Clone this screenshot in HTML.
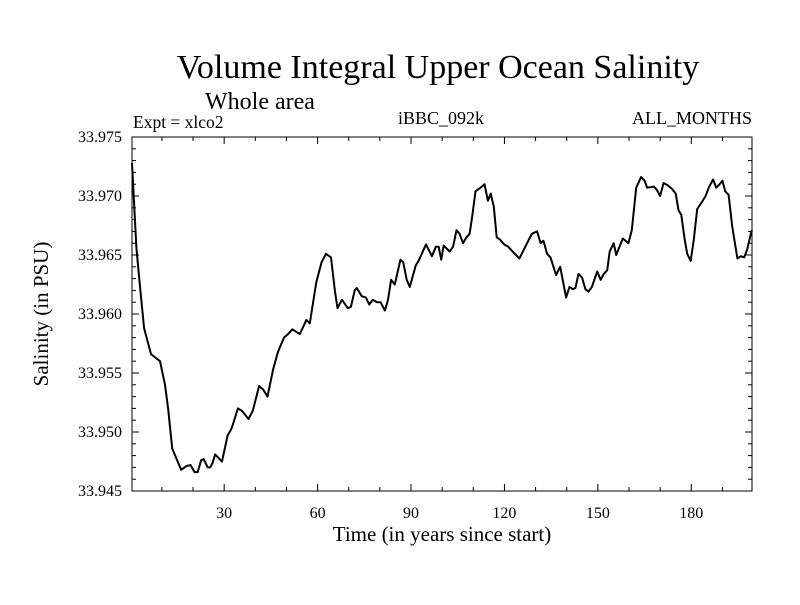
<!DOCTYPE html>
<html><head><meta charset="utf-8"><style>
body{margin:0;background:#fff}
svg text{font-family:"Liberation Serif",serif;fill:#000}
</style></head><body>
<svg id="chart" width="800" height="600" viewBox="0 0 800 600">
<text x="438" y="78" font-size="34" text-anchor="middle">Volume Integral Upper Ocean Salinity</text>
<text x="260" y="109" font-size="24" text-anchor="middle">Whole area</text>
<text x="133" y="128" font-size="17.5">Expt = xlco2</text>
<text x="441" y="124" font-size="18" text-anchor="middle">iBBC_092k</text>
<text x="752" y="124" font-size="18" text-anchor="end">ALL_MONTHS</text>
<text transform="translate(48,314) rotate(-90)" font-size="21" text-anchor="middle">Salinity (in PSU)</text>
<text x="442" y="541" font-size="21" text-anchor="middle">Time (in years since start)</text>
<g id="axes"></g>
<path id="line" fill="none" stroke="#000" stroke-width="2" stroke-linejoin="round"/>
<rect x="132" y="137" width="620" height="354" fill="none" stroke="#000" stroke-width="1"/>
</svg>
<script>
const years=[0.4,1.8,2.9,4.3,6.5,9.4,11,12,13.3,14.6,16.2,17.8,19.2,20.5,21.5,22.6,23.4,24.7,25.5,26.3,27.1,29.3,31.1,32.4,34.4,35.7,37.8,39.2,41.2,42.5,43.9,45.7,47.3,49.2,50.5,51.9,54.3,56.4,57.5,59.6,61.3,62.7,64.3,65.6,66.4,67.8,69.7,70.7,71.9,72.6,74.2,75.5,76.6,77.7,79.1,80.2,81.6,82.6,83.6,84.8,86.6,87.5,88.6,89.6,91.5,92.6,94.8,96.7,98,98.9,99.7,100.5,102.4,103.5,104.6,105.6,106.7,107.8,108.8,109.6,110.7,112.3,113.6,114.7,115.6,116.6,117.5,118.6,119.9,121.2,122.6,124.8,126.9,128.8,130.5,131.6,132.5,133.7,134.8,136.6,137.9,139.8,140.9,142,142.8,143.8,144.9,146,147,148.1,149.8,150.9,151.9,153,153.8,155.1,155.9,158,159.8,160.9,162.3,163.9,165,165.8,168,169,170,171.1,172.5,173.8,175,175.9,176.8,177.9,178.7,179.8,180.8,181.9,183.2,184.6,185.6,187,188,189.1,190,190.9,192,193.1,194.8,195.9,197,198,199.1,199.5];
const salinity=[33.9728,33.9656,33.9625,33.9588,33.9566,33.9560,33.9540,33.9520,33.9486,33.9478,33.9468,33.9471,33.9472,33.9466,33.9466,33.9476,33.9477,33.9470,33.9470,33.9474,33.9481,33.9475,33.9497,33.9503,33.9520,33.9518,33.9511,33.9518,33.9539,33.9536,33.9530,33.9553,33.9568,33.9580,33.9583,33.9587,33.9583,33.9595,33.9592,33.9627,33.9644,33.9651,33.9648,33.9619,33.9605,33.9612,33.9605,33.9606,33.9620,33.9622,33.9615,33.9614,33.9608,33.9612,33.9610,33.9610,33.9603,33.9612,33.9629,33.9625,33.9646,33.9644,33.9629,33.9623,33.9641,33.9646,33.9659,33.9649,33.9657,33.9657,33.9646,33.9658,33.9653,33.9657,33.9671,33.9668,33.9660,33.9665,33.9668,33.9682,33.9704,33.9707,33.9710,33.9696,33.9702,33.9691,33.9665,33.9663,33.9659,33.9657,33.9653,33.9647,33.9658,33.9668,33.9670,33.9660,33.9662,33.9651,33.9648,33.9633,33.9640,33.9614,33.9623,33.9621,33.9622,33.9634,33.9631,33.9621,33.9619,33.9623,33.9636,33.9629,33.9634,33.9637,33.9653,33.9660,33.9650,33.9664,33.9660,33.9671,33.9707,33.9716,33.9713,33.9707,33.9708,33.9705,33.9700,33.9711,33.9709,33.9706,33.9702,33.9688,33.9684,33.9663,33.9651,33.9645,33.9663,33.9689,33.9694,33.9700,33.9707,33.9714,33.9707,33.9710,33.9713,33.9704,33.9701,33.9675,33.9647,33.9649,33.9648,33.9655,33.9668,33.9671];
const xTicks=[30,60,90,120,150,180];
const yTicks=[33.945,33.950,33.955,33.960,33.965,33.970,33.975];
const yTickLabels=["33.945","33.950","33.955","33.960","33.965","33.970","33.975"];
const X0=0.4,X1=199.5,Y0=33.945,Y1=33.975;
const L=132,R=752,T=137,B=491;
function xs(v){return L+(v-X0)/(X1-X0)*(R-L);}
function ys(v){return B-(v-Y0)/(Y1-Y0)*(B-T);}
const NS="http://www.w3.org/2000/svg";
const g=document.getElementById('axes');
function ln(x1,y1,x2,y2,name){const e=document.createElementNS(NS,'line');
e.setAttribute('x1',x1);e.setAttribute('y1',y1);e.setAttribute('x2',x2);e.setAttribute('y2',y2);
e.setAttribute('stroke','#000');e.setAttribute('stroke-width','1');


g.appendChild(e);}
function tx(x,y,s,anchor,name){const e=document.createElementNS(NS,'text');
e.setAttribute('x',x);e.setAttribute('y',y);e.setAttribute('font-size','16');e.setAttribute('text-anchor',anchor);e.textContent=s;


g.appendChild(e);}
for(let v=10;v<X1;v+=10){const x=xs(v);const major=v%30===0;const len=major?7:4;
ln(x,B,x,B-len,'x-tick');ln(x,T,x,T+len,'x-tick-top');}
xTicks.forEach(v=>tx(xs(v),518,String(v),'middle','x-tick-label'));
for(let i=0;i<=30;i++){const v=Y0+i*0.001;const y=ys(v);const major=i%5===0;const len=major?7:4;
ln(L,y,L+len,y,'y-tick');ln(R,y,R-len,y,'y-tick-right');}
yTicks.forEach((v,i)=>tx(122,ys(v)+5,yTickLabels[i],'end','y-tick-label'));
let d='';years.forEach((yr,i)=>{d+=(i?'L':'M')+xs(yr).toFixed(1)+','+ys(salinity[i]).toFixed(1);});
document.getElementById('line').setAttribute('d',d);
</script>
</body></html>
